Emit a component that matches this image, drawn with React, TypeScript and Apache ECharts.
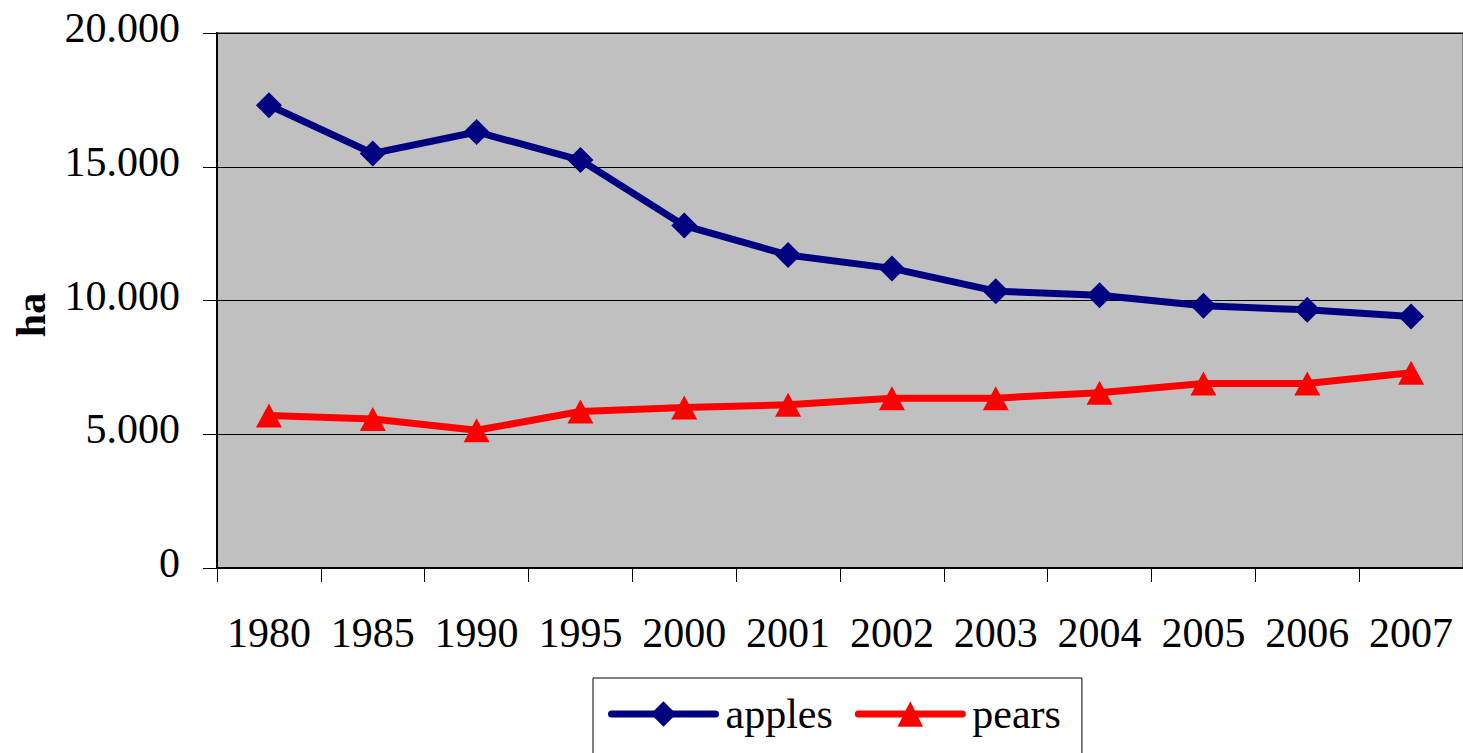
import React, { useEffect, useRef } from "react";
import * as echarts from "echarts";

const categories = ["1980", "1985", "1990", "1995", "2000", "2001", "2002", "2003", "2004", "2005", "2006", "2007"];
const apples = [17300, 15500, 16300, 15250, 12800, 11700, 11200, 10350, 10200, 9800, 9650, 9400];
const pears = [5700, 5570, 5150, 5850, 6000, 6100, 6350, 6350, 6550, 6900, 6900, 7300];
const yTicks = [0, 5000, 10000, 15000, 20000];

const FONT = "'Liberation Serif', 'Times New Roman', serif";

function fmt(v: number): string {
  if (v === 0) return "0";
  const th = Math.floor(v / 1000);
  const rest = String(v % 1000).padStart(3, "0");
  return th + "." + rest;
}

export default function App() {
  const ref = useRef<HTMLDivElement>(null);
  useEffect(() => {
    if (!ref.current) return;
    const chart = echarts.init(ref.current, null, { renderer: "svg" });
    chart.setOption({
      animation: false,
      backgroundColor: "#ffffff",
      grid: {
        left: 217,
        top: 33,
        width: 1246,
        height: 535,
        show: true,
        backgroundColor: "#C0C0C0",
        borderColor: "#808080",
        borderWidth: 2,
      },
      xAxis: {
        type: "category",
        data: categories,
        boundaryGap: true,
        axisLine: { show: true, lineStyle: { color: "#000", width: 2 } },
        axisTick: { show: true, length: 14, lineStyle: { color: "#000", width: 1 } },
        axisLabel: { fontFamily: FONT, fontSize: 42, color: "#000", margin: 44, interval: 0 },
        splitLine: { show: false },
      },
      yAxis: {
        type: "value",
        min: yTicks[0],
        max: yTicks[yTicks.length - 1],
        interval: 5000,
        axisLine: { show: true, lineStyle: { color: "#000", width: 2 } },
        axisTick: { show: true, length: 14, lineStyle: { color: "#000", width: 1 } },
        axisLabel: {
          fontFamily: FONT,
          fontSize: 42,
          color: "#000",
          margin: 37,
          lineHeight: 10,
          verticalAlign: "bottom",
          formatter: (v: number) => fmt(v),
        },
        splitLine: { show: true, lineStyle: { color: "#000", width: 1 } },
      },
      legend: {
        left: 593,
        top: 678,
        orient: "horizontal",
        borderColor: "#000",
        borderWidth: 1,
        padding: [15, 21, 40, 15],
        itemGap: 22,
        itemWidth: 104,
        itemHeight: 32,
        lineStyle: { width: 7, cap: "round" },
        textStyle: { fontFamily: FONT, fontSize: 42, color: "#000", padding: [0, 0, 0, 5] },
        data: ["apples", "pears"],
      },
      graphic: [
        {
          type: "text",
          x: 31,
          y: 315,
          rotation: Math.PI / 2,
          style: {
            text: "ha",
            fontFamily: FONT,
            fontSize: 42,
            fontWeight: "bold",
            fill: "#000",
            textAlign: "center",
            textVerticalAlign: "middle",
          },
        },
      ],
      series: [
        {
          name: "apples",
          type: "line",
          data: apples,
          symbol: "diamond",
          symbolSize: 26,
          lineStyle: { color: "#000080", width: 7 },
          itemStyle: { color: "#000080" },
          z: 3,
        },
        {
          name: "pears",
          type: "line",
          data: pears,
          symbol: "triangle",
          symbolSize: [26, 24],
          lineStyle: { color: "#FF0000", width: 7 },
          itemStyle: { color: "#FF0000" },
          z: 3,
        },
      ],
    });
    return () => chart.dispose();
  }, []);
  return (
    <div
      ref={ref}
      style={{ position: "absolute", left: 0, top: 0, width: 1463, height: 753 }}
    />
  );
}
